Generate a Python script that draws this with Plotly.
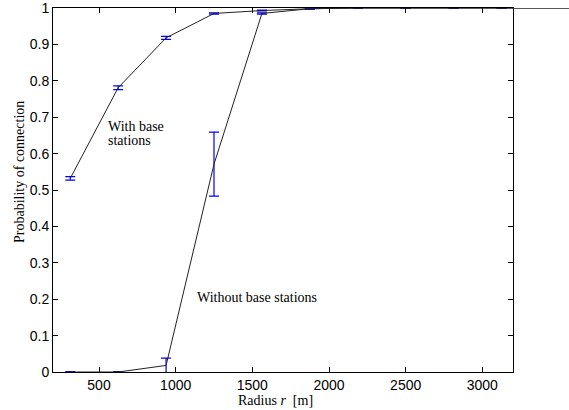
import plotly.graph_objects as go

# ---- data ----
radius = [312.5, 625, 937.5, 1250, 1562.5, 1875, 2187.5, 2500, 2812.5, 3125, 3437.5, 3750]
p_with = [0.532, 0.781, 0.918, 0.985, 0.993, 0.998, 1.0, 1.0, 1.0, 1.0, 1.0, 1.0]
err_with = [0.005, 0.005, 0.004, 0.002, 0.001, 0.001, 0.001, 0.001, 0.001, 0.001]
p_without = [0.0, 0.0, 0.018, 0.571, 0.985, 0.998, 1.0, 1.0, 1.0, 1.0, 1.0, 1.0]
err_without = [0.001, 0.001, 0.02, 0.088, 0.002, 0.001, 0.001, 0.001, 0.001, 0.001]
n_err = 10  # points with error bars (inside the axes)

x_ticks = [500, 1000, 1500, 2000, 2500, 3000]
y_ticks = [0, 0.1, 0.2, 0.3, 0.4, 0.5, 0.6, 0.7, 0.8, 0.9, 1]
y_ticktext = ["0", "0.1", "0.2", "0.3", "0.4", "0.5", "0.6", "0.7", "0.8", "0.9", "1"]
x_range = [200, 3200]

# ---- geometry ----
W, H = 569, 410
ML, MR, MT, MB = 53, 0, 8, 38
axes_w = 460.0
plot_w = W - ML - MR
dom = axes_w / plot_w
x2_end = x_range[0] + plot_w * (x_range[1] - x_range[0]) / axes_w

LINE = "#222222"
BLUE = "#0000ff"
SANS = "Liberation Sans, Arial, sans-serif"
SERIF = "Liberation Serif, Times New Roman, serif"

fig = go.Figure()

# curves (drawn on a wider hidden axis so they run past the right spine, as in the original)
for yv in (p_with, p_without):
    fig.add_trace(go.Scatter(x=radius, y=yv, mode="lines", xaxis="x2", yaxis="y",
                             line=dict(color=LINE, width=1), showlegend=False,
                             hoverinfo="skip"))

# error bars
for yv, ev in ((p_with, err_with), (p_without, err_without)):
    fig.add_trace(go.Scatter(x=radius[:n_err], y=yv[:n_err], mode="markers",
                             marker=dict(size=1, color="rgba(0,0,0,0)"),
                             error_y=dict(type="data", array=ev, visible=True,
                                          color=BLUE, thickness=1.2, width=5),
                             showlegend=False, hoverinfo="skip"))

axis_common = dict(showline=True, linecolor="black", linewidth=1, mirror="ticks",
                   ticks="inside", ticklen=5, tickwidth=1, tickcolor="black",
                   showgrid=False, zeroline=False, ticklabeloverflow="allow",
                   tickfont=dict(family=SANS, size=14, color="black"))

fig.update_layout(
    width=W, height=H,
    margin=dict(l=ML, r=MR, t=MT, b=MB, autoexpand=False),
    paper_bgcolor="white", plot_bgcolor="rgba(0,0,0,0)",
    xaxis=dict(domain=[0, dom], range=x_range, tickvals=x_ticks, anchor="y", **axis_common),
    xaxis2=dict(domain=[0, 1], range=[x_range[0], x2_end], visible=False, anchor="y",
                showgrid=False, zeroline=False),
    yaxis=dict(range=[0, 1], tickvals=y_ticks, ticktext=y_ticktext, anchor="x",
               **axis_common),
    showlegend=False,
)

txt = dict(family=SERIF, size=14, color="black")
fig.add_annotation(x=545, y=0.674, xref="x", yref="y", text="With base", showarrow=False,
                   xanchor="left", yanchor="middle", font=txt)
fig.add_annotation(x=545, y=0.635, xref="x", yref="y", text="stations", showarrow=False,
                   xanchor="left", yanchor="middle", font=txt)
fig.add_annotation(x=1124, y=0.204, xref="x", yref="y", text="Without base stations",
                   showarrow=False, xanchor="left", yanchor="middle", font=txt)

plot_h = H - MT - MB
fig.add_annotation(x=(275.5 - ML) / plot_w, y=(372 - 400) / plot_h, xref="paper", yref="paper",
                   text="Radius <i>r</i>&nbsp; [m]", showarrow=False,
                   xanchor="center", yanchor="middle", font=txt)
fig.add_annotation(x=(20 - ML) / plot_w, y=(372 - 172) / plot_h, xref="paper", yref="paper",
                   text="Probability of connection", textangle=-90, showarrow=False,
                   xanchor="center", yanchor="middle", font=txt)

fig.write_html("out.html", config={"displayModeBar": False},
               post_script="document.body.style.margin='0px';document.body.style.overflow='hidden';")
